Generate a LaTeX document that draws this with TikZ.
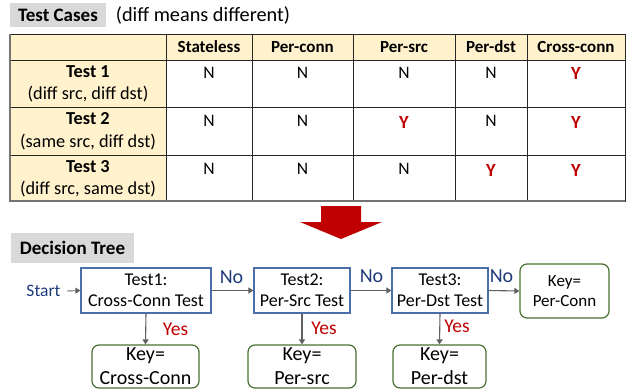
\documentclass[tikz,border=0pt]{standalone}
\usepackage{fontspec}
\setmainfont{Carlito}
\usetikzlibrary{arrows.meta}
\definecolor{hdrfill}{HTML}{FFF2CC}
\definecolor{titlegray}{HTML}{D9D9D9}
\definecolor{yesred}{HTML}{C00000}
\definecolor{nonavy}{HTML}{1F3A78}
\definecolor{testblue}{HTML}{4A6EA9}
\definecolor{keygreen}{HTML}{4A7030}
\definecolor{arrowgray}{HTML}{606060}
\tikzset{
  titlebox/.style={fill=titlegray, inner sep=0pt, font=\fontsize{19}{22}\selectfont\bfseries},
  hdrtext/.style={font=\fontsize{17}{20}\selectfont\bfseries},
  rowhead/.style={align=center, font=\fontsize{18.3}{22.5}\selectfont},
  celltext/.style={font=\fontsize{17.5}{20}\selectfont},
  ytext/.style={font=\fontsize{18.5}{20}\selectfont\bfseries, text=yesred},
  grid/.style={draw=black!85, line width=0.9pt},
  testbox/.style={draw=testblue, line width=1.2pt, align=center, inner sep=0pt,
    minimum height=45pt, font=\fontsize{18}{21}\selectfont},
  keybox/.style={draw=keygreen, line width=1.2pt, rounded corners=7pt, align=center,
    inner sep=0pt, font=\fontsize{17}{20}\selectfont},
  bigkey/.style={keybox, minimum height=43pt, font=\fontsize{20}{24}\selectfont},
  flow/.style={draw=arrowgray, line width=1.1pt, -{Triangle[length=5pt,width=6pt]}},
  nolabel/.style={text=nonavy, font=\fontsize{20}{22}\selectfont},
  yeslabel/.style={text=yesred, font=\fontsize{19.5}{22}\selectfont},
}
\begin{document}
\begin{tikzpicture}[x=1pt,y=-1pt]
\useasboundingbox (0,0) rectangle (629,391);

% ---- heading of the table section
\node[titlebox, minimum width=96pt, minimum height=24pt] (tctitle) at (58,15) {Test Cases};
\node[font=\fontsize{20.3}{22}\selectfont] (tcnote) at (203,15) {(diff means different)};

% ---- table background
\fill[hdrfill] (10,34) rectangle (625,60);
\fill[hdrfill] (10,60) rectangle (166,201);
% ---- table rules
\foreach \xx in {166,252,353,455,527} \draw[grid] (\xx,34) -- (\xx,201);
\foreach \yy in {60,107,155} \draw[grid] (10,\yy) -- (625,\yy);
\draw[grid] (10,34) rectangle (625,201);
\draw[draw=black!55, line width=1.6pt] (10,34) -- (10,201) -- (625,201);

% ---- header row
\node[hdrtext] (hstateless) at (209,47) {Stateless};
\node[hdrtext] (hperconn) at (302.5,47) {Per-conn};
\node[hdrtext] (hpersrc) at (404,47) {Per-src};
\node[hdrtext] (hperdst) at (491,47) {Per-dst};
\node[hdrtext] (hcross) at (576,47) {Cross-conn};

% ---- row headings
\node[rowhead] (rtest1) at (88,84) {\textbf{Test 1}\\(diff src, diff dst)};
\node[rowhead] (rtest2) at (88,131.5) {\textbf{Test 2}\\(same src, diff dst)};
\node[rowhead] (rtest3) at (88,179) {\textbf{Test 3}\\(diff src, same dst)};

% ---- row 1
\node[celltext] (c11) at (209,73) {N};
\node[celltext] (c12) at (302.5,73) {N};
\node[celltext] (c13) at (404,73) {N};
\node[celltext] (c14) at (491,73) {N};
\node[ytext] (c15) at (576,74) {Y};
% ---- row 2
\node[celltext] (c21) at (209,121) {N};
\node[celltext] (c22) at (302.5,121) {N};
\node[ytext] (c23) at (404,122) {Y};
\node[celltext] (c24) at (491,121) {N};
\node[ytext] (c25) at (576,122) {Y};
% ---- row 3
\node[celltext] (c31) at (209,169) {N};
\node[celltext] (c32) at (302.5,169) {N};
\node[celltext] (c33) at (404,169) {N};
\node[ytext] (c34) at (491,170) {Y};
\node[ytext] (c35) at (576,170) {Y};

% ---- block arrow between the two sections
\fill[yesred] (321,206) -- (361,206) -- (361,222) -- (382,222) -- (341,239)
  -- (300,222) -- (321,222) -- cycle;

% ---- heading of the tree section
\node[titlebox, minimum width=123pt, minimum height=30pt] (dttitle) at (72.5,248) {Decision Tree};

% ---- decision tree
\node[text=nonavy, font=\fontsize{17.5}{20}\selectfont] (start) at (43.5,291) {Start};
\node[testbox, minimum width=130pt] (t1) at (146,290.5) {Test1:\\Cross-Conn Test};
\node[testbox, minimum width=96pt] (t2) at (302,290.5) {Test2:\\Per-Src Test};
\node[testbox, minimum width=96pt] (t3) at (440,290.5) {Test3:\\Per-Dst Test};
\node[keybox, minimum width=89pt, minimum height=54pt] (kconn) at (564.5,291) {Key=\\Per-Conn};
\node[bigkey, minimum width=107pt] (kcross) at (145.5,366.5) {Key=\\Cross-Conn};
\node[bigkey, minimum width=108pt] (ksrc) at (302,366.5) {Key=\\Per-src};
\node[bigkey, minimum width=93pt] (kdst) at (439.5,366.5) {Key=\\Per-dst};

\draw[flow, line width=0.9pt] (start.east) ++(3pt,0) -- (t1.west);
\draw[flow] (t1.east) -- (t2.west);
\draw[flow] (t2.east) -- (t3.west);
\draw[flow] (t3.east) -- (kconn.west);
\draw[flow] (t1.south) -- (kcross.north);
\draw[flow] (t2.south) -- (ksrc.north);
\draw[flow] (t3.south) -- (kdst.north);

\node[nolabel] (no1) at (231.5,277) {No};
\node[nolabel] (no2) at (371.5,276) {No};
\node[nolabel] (no3) at (501.5,276) {No};
\node[yeslabel] (yes1) at (175.5,329) {Yes};
\node[yeslabel] (yes2) at (324,328) {Yes};
\node[yeslabel] (yes3) at (457,326) {Yes};
\end{tikzpicture}
\end{document}
